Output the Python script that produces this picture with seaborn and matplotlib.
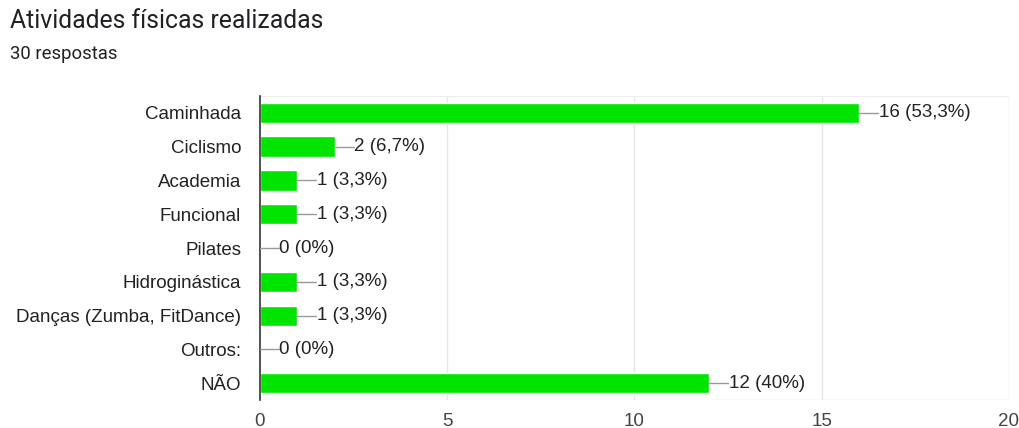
import matplotlib
matplotlib.use("Agg")
import matplotlib.pyplot as plt
import seaborn as sns
import pandas as pd

categories = ["Caminhada", "Ciclismo", "Academia", "Funcional", "Pilates",
              "Hidroginástica", "Danças (Zumba, FitDance)", "Outros:", "NÃO"]
counts = [16, 2, 1, 1, 0, 1, 1, 0, 12]
percent_labels = ["53,3%", "6,7%", "3,3%", "3,3%", "0%", "3,3%", "3,3%", "0%", "40%"]
x_ticks = [0, 5, 10, 15, 20]

df = pd.DataFrame({"atividade": categories, "n": counts})

sns.set_theme(style="white")
plt.rcParams["font.family"] = ["Liberation Sans", "DejaVu Sans"]

fig = plt.figure(figsize=(10.19, 4.28), dpi=100)
ax = fig.add_axes([0.2551, 0.065, 0.735, 0.711])

sns.barplot(data=df, x="n", y="atividade", orient="h", color="#00e400",
            saturation=1, width=0.6, ax=ax)

ax.set_xlim(0, 20)
ax.set_ylim(len(categories) - 0.5, -0.5)
ax.set_xticks(x_ticks)
ax.set_xticklabels([str(t) for t in x_ticks], fontsize=13.5, color="#444444")
ax.tick_params(axis="y", labelsize=13.5, labelcolor="#222222", length=0, pad=13.5)
ax.tick_params(axis="x", length=0, pad=9)
ax.set_xlabel("")
ax.set_ylabel("")

for xv in x_ticks[1:]:
    ax.axvline(xv, color="#e6e6e6", lw=1, zorder=0)
ax.axhline(-0.5, color="#eeeeee", lw=1, zorder=0)
ax.axhline(len(categories) - 0.5, color="#e6e6e6", lw=1, zorder=0)

for s in ["top", "right", "bottom"]:
    ax.spines[s].set_visible(False)
ax.spines["left"].set_color("#333333")
ax.spines["left"].set_linewidth(1.2)

# value labels joined to bar ends by a short leader line
lead = 0.5
for i, (v, p) in enumerate(zip(counts, percent_labels)):
    ax.plot([v, v + lead], [i, i], color="#999999", lw=1, zorder=3, clip_on=False)
    ax.text(v + lead + 0.02, i, f"{v} ({p})", va="center", ha="left",
            fontsize=13.5, color="#222222")

fig.text(10 / 1019, 1 - 21 / 428, "Atividades físicas realizadas",
         fontsize=17.8, color="#202124", va="center", ha="left",
         family=["Roboto", "DejaVu Sans"])
fig.text(10 / 1019, 1 - 54 / 428, "30 respostas",
         fontsize=13.3, color="#202124", va="center", ha="left",
         family=["Roboto", "DejaVu Sans"])

fig.savefig("out.png", dpi=100)
